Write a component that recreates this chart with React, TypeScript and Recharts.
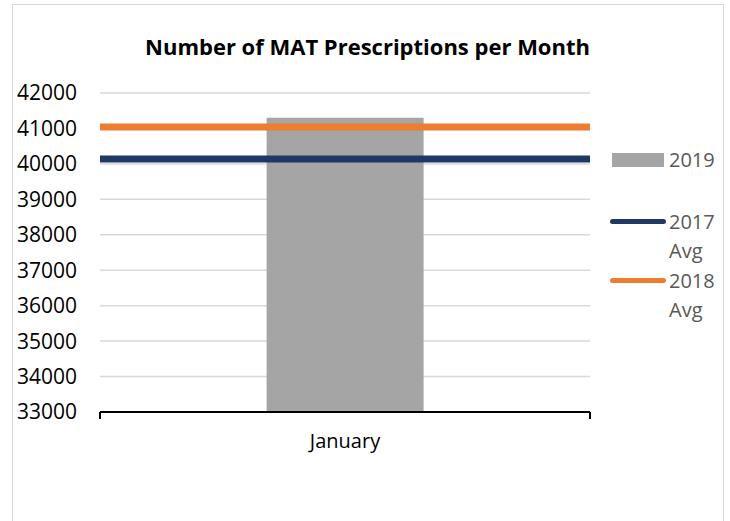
import React from 'react';
import { ComposedChart, Bar, XAxis, YAxis, CartesianGrid, ReferenceLine } from 'recharts';

const months = ['January'];
const values2019 = [41300];
const avg2017 = 40140;
const avg2018 = 41040;
const yTicks = [33000, 34000, 35000, 36000, 37000, 38000, 39000, 40000, 41000, 42000];

const chartData = months.map((month, i) => ({ month, v2019: values2019[i] }));

const legendItems = [
  { name: '2019', kind: 'bar', color: '#a5a5a5' },
  { name: '2017 Avg', kind: 'line', color: '#203864' },
  { name: '2018 Avg', kind: 'line', color: '#ed7d31' },
];

const FONT = '"Open Sans", "Liberation Sans", sans-serif';
const Y_MIN = yTicks[0];
const Y_MAX = yTicks[yTicks.length - 1];
// little end-ticks hanging under the category axis (Excel style)
const TICK_DROP = 200;

function LegendBox() {
  return (
    <div style={{ position: 'absolute', left: 609, top: 145, width: 115, fontFamily: FONT, fontSize: 20, color: '#595959' }}>
      {legendItems.map((item) => {
        const [first, ...rest] = item.name.split(' ');
        return (
          <div key={item.name} style={{ display: 'flex', alignItems: 'flex-start', marginBottom: item.kind === 'bar' ? 32 : 0 }}>
            <div style={{ width: 58, height: 29, display: 'flex', alignItems: 'center', justifyContent: 'center' }}>
              {item.kind === 'bar' ? (
                <div style={{ width: 52, height: 14, background: item.color }} />
              ) : (
                <div style={{ width: 56, height: 5, borderRadius: 3, background: item.color }} />
              )}
            </div>
            <div style={{ lineHeight: '29.5px', marginLeft: 2 }}>
              <div>{first}</div>
              {rest.length > 0 && <div>{rest.join(' ')}</div>}
            </div>
          </div>
        );
      })}
    </div>
  );
}

export default function App() {
  const firstMonth = months[0];
  const lastMonth = months[months.length - 1];
  return (
    <div style={{ position: 'absolute', left: 0, top: 0, width: 730, height: 521, background: '#fff', overflow: 'hidden' }}>
      <div style={{ position: 'absolute', left: 12, top: 4, width: 710, height: 540, border: '1px solid #d9d9d9' }} />
      <div
        style={{
          position: 'absolute', left: 0, top: 31, width: 735, textAlign: 'center',
          fontFamily: FONT, fontWeight: 700, fontSize: 22, color: '#000',
        }}
      >
        Number of MAT Prescriptions per Month
      </div>
      <div style={{ position: 'absolute', left: 0, top: 0 }}>
        <ComposedChart width={730} height={521} data={chartData} margin={{ top: 93, right: 140, bottom: 79, left: 0 }} barCategoryGap="34%">
          <CartesianGrid horizontal vertical={false} stroke="#d9d9d9" strokeWidth={1.5} />
          <XAxis
            dataKey="month"
            axisLine={{ stroke: '#000', strokeWidth: 2 }}
            tickLine={false}
            tickSize={0}
            tickMargin={22}
            tick={{ fill: '#000', fontSize: 20, fontFamily: FONT }}
          />
          <YAxis
            domain={[Y_MIN, Y_MAX]}
            ticks={yTicks}
            allowDataOverflow
            width={100}
            axisLine={false}
            tickLine={false}
            tickSize={0}
            tickMargin={23}
            tick={{ fill: '#000', fontSize: 21, fontFamily: FONT }}
          />
          <Bar dataKey="v2019" fill="#a5a5a5" isAnimationActive={false} />
          <ReferenceLine y={avg2017} stroke="#203864" strokeWidth={7} />
          <ReferenceLine y={avg2018} stroke="#ed7d31" strokeWidth={7} />
          <ReferenceLine
            segment={[{ x: firstMonth, y: Y_MIN }, { x: firstMonth, y: Y_MIN - TICK_DROP }]}
            position="start"
            ifOverflow="visible"
            stroke="#000"
            strokeWidth={2}
          />
          <ReferenceLine
            segment={[{ x: lastMonth, y: Y_MIN }, { x: lastMonth, y: Y_MIN - TICK_DROP }]}
            position="end"
            ifOverflow="visible"
            stroke="#000"
            strokeWidth={2}
          />
        </ComposedChart>
      </div>
      <LegendBox />
    </div>
  );
}
